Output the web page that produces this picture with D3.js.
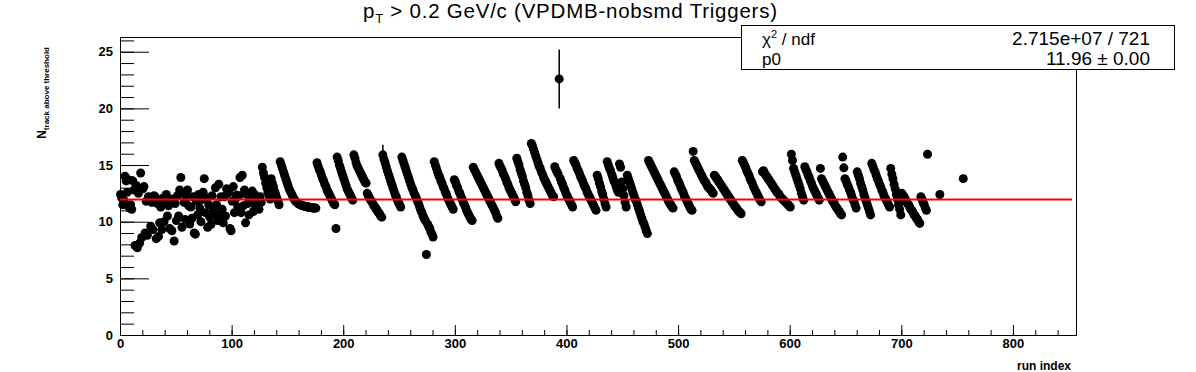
<!DOCTYPE html>
<html><head><meta charset="utf-8">
<script src="https://cdn.jsdelivr.net/npm/d3@7/dist/d3.min.js"></script>
<style>body{margin:0;background:#fff}svg{display:block}</style>
</head><body><svg id="c" width="1196" height="372"></svg>
<script>
// ---- data ----
const earlyValues = [12.4,12.1,11.5,11.9,14.0,13.6,12.6,13.7,11.2,11.5,11.1,13.6,12.8,7.9,13.2,7.7,12.5,8.1,14.3,8.6,
12.9,13.1,9.0,11.8,8.8,12.2,12.0,9.6,11.7,9.3,12.3,12.2,8.5,11.6,8.7,9.9,11.3,9.3,12.1,10.0,
11.8,12.4,10.5,11.4,9.4,11.9,9.2,12.0,8.3,11.6,10.1,12.3,10.5,12.8,13.9,9.5,12.5,11.7,10.2,12.1,
12.8,11.4,9.8,11.3,10.3,12.2,9.0,8.9,11.8,10.6,12.4,11.2,10.0,11.96,12.6,13.8,10.8,12.1,9.5,11.5,
10.4,9.75,12.3,11.0,10.7,13.0,11.5,10.1,13.3,10.6,12.2,11.1,9.9,12.2,10.5,12.9,12.5,12.6,9.4,9.2,
11.8,13.1,10.8,12.0,12.35,11.3,12.3,13.9,10.8,14.1,11.4,12.8,9.9,12.4,11.6,10.6,12.2,11.9,12.7,10.9,
12.4,11.4,11.3,12.0,11.1,12.2,11.7];
const sawtoothValues = [
14.8,14.3,13.9,13.4,13.0,12.6,12.3,12.0,
13.8,13.4,13.1,12.7,12.4,12.1,11.8,11.5,
15.3,15.0,14.7,14.4,14.1,13.8,13.5,13.2,12.9,12.7,12.5,12.3,12.1,11.9,11.8,11.7,11.6,11.55,11.5,11.45,11.4,11.4,11.35,11.35,11.3,11.3,11.3,11.25,11.25,11.2,11.2,11.2,11.2,
15.2,14.9,14.6,14.4,14.1,13.8,13.6,13.3,13.1,12.8,12.6,12.4,12.2,12.0,11.8,11.6,11.5,
9.4,
15.7,15.4,15.0,14.7,14.4,14.1,13.8,13.5,13.2,12.9,12.7,12.5,12.3,12.1,11.9,
15.9,15.6,15.2,14.9,14.7,14.5,14.3,14.1,13.9,13.7,13.5,13.4,
12.5,12.3,12.1,11.9,11.8,11.6,11.4,11.3,11.1,11.0,10.8,10.7,10.5,10.4,
15.9,15.5,15.2,
14.85,14.5,14.2,13.9,13.6,13.3,13.0,12.7,12.4,12.2,11.9,11.7,11.5,11.3,
15.7,15.4,15.1,14.8,14.5,14.2,13.9,13.6,13.3,13.0,12.8,12.5,12.3,12.1,11.8,11.6,11.3,11.0,10.8,10.5,10.3,10.1,7.1,9.8,9.6,9.4,9.1,8.9,8.65,
15.3,15.0,14.7,14.4,14.1,13.9,13.6,13.4,13.1,12.9,12.6,12.4,12.1,11.9,11.7,11.5,11.3,11.1,
13.7,13.5,13.2,13.0,12.7,12.5,12.2,12.0,11.7,11.5,11.3,11.0,10.8,10.6,10.4,10.2,10.1,
14.8,14.6,14.4,14.2,14.0,13.8,13.6,13.4,13.2,13.0,12.8,12.6,12.4,12.2,12.0,11.8,11.6,11.4,11.2,11.0,10.8,10.5,10.3,
15.15,14.9,14.7,14.5,14.2,14.0,13.8,13.5,13.3,13.0,12.8,12.6,12.4,12.2,12.0,11.75,
15.6,15.3,15.0,14.6,14.3,14.0,13.6,13.3,13.0,12.6,12.3,11.9,11.6,
16.9,16.7,16.4,16.1,15.8,15.5,15.2,14.9,14.7,14.4,14.2,13.9,13.7,13.5,13.3,13.1,12.9,12.7,12.5,12.3,12.2,
14.85,14.6,14.4,14.2,22.6,13.8,13.5,13.3,13.0,12.8,12.5,12.3,12.1,11.9,11.7,11.5,11.3,
15.4,15.2,15.0,14.7,14.5,14.3,14.0,13.8,13.6,13.3,13.1,12.9,12.6,12.4,12.2,12.0,11.8,11.6,11.4,11.2,11.0,
14.1,13.8,13.4,13.1,12.7,12.4,12.0,11.6,11.3,
15.3,15.0,14.7,14.5,14.2,13.9,13.6,13.4,13.1,12.8,12.6,
15.1,14.8,13.5,12.9,12.3,11.7,11.3,
14.1,13.8,13.5,13.2,12.9,12.6,12.3,12.0,11.8,11.5,11.2,10.9,10.6,10.3,10.0,9.8,9.5,9.2,8.95,
15.4,15.2,15.0,14.8,14.6,14.4,14.2,14.0,13.8,13.6,13.4,13.2,13.0,12.8,12.6,12.4,12.2,12.0,11.8,11.6,11.5,11.3,11.2,
14.4,14.2,14.0,13.7,13.5,13.3,13.0,12.8,12.6,12.3,12.1,11.9,11.7,11.5,11.3,11.1,11.0,
16.2,15.4,15.2,15.0,14.8,14.6,14.4,14.2,14.0,13.8,13.6,13.5,13.3,13.1,13.0,12.9,12.8,12.6,12.5,
14.1,14.0,13.8,13.7,13.5,13.4,13.2,13.1,12.9,12.8,12.6,12.5,12.3,12.2,12.0,11.9,11.7,11.6,11.4,11.3,11.2,11.0,10.9,10.8,10.7,
15.4,15.2,15.0,14.8,14.5,14.3,14.1,13.8,13.6,13.4,13.1,12.9,12.7,12.5,12.3,12.1,11.9,11.75,
14.4,14.5,14.3,14.1,14.0,13.8,13.7,13.5,13.4,13.2,13.1,12.9,12.8,12.6,12.5,12.4,12.2,12.1,12.0,11.9,11.8,11.7,11.6,11.5,11.4,11.3,
15.95,15.4,14.7,14.4,14.1,13.8,13.5,13.2,12.9,12.5,12.2,11.9,
14.85,14.6,14.4,14.1,13.9,13.6,13.4,13.1,12.9,12.7,12.5,12.3,12.1,11.9,
14.7,13.8,13.6,13.4,13.2,13.0,12.8,12.6,12.4,12.2,12.0,11.8,11.7,11.5,11.3,11.2,11.0,10.9,10.7,10.6,
15.7,14.75,13.8,13.6,13.3,13.1,12.8,12.6,12.3,12.0,11.8,11.5,11.2,
14.4,14.1,13.8,13.4,13.1,12.8,12.4,12.1,11.8,11.5,11.2,10.9,10.6,
15.15,14.9,14.6,14.4,14.1,13.8,13.6,13.3,13.1,12.8,12.6,12.3,12.1,11.9,11.7,11.5,11.3,
14.7,14.2,13.8,13.3,12.9,12.4,12.0,11.5,11.1,10.6,
12.5,12.3,12.2,12.0,11.8,11.6,11.5,11.3,11.1,11.0,10.8,10.6,10.5,10.3,10.2,10.0,9.85,
12.2,12.0,11.7,11.5,11.2,11.0,
15.95];
const lateRuns = [734, 755];
const lateValues = [12.4, 13.8];
const errRuns = [235, 393];
const errSizes = [0.9, 2.6];
const fitValue = 11.96;
const xTicks = [0,100,200,300,400,500,600,700,800];
const yTicks = [0,5,10,15,20,25];
const titleMain = "p", titleSub = "T", titleRest = " > 0.2 GeV/c (VPDMB-nobsmd Triggers)";
const statNames = ["ndf", "p0"];
const statValues = ["2.715e+07 / 721", "11.96 \u00b1 0.00"];

// ---- build points ----
const allValues = earlyValues.concat(sawtoothValues);
const points = allValues.map((v, i) => ({run: i, v: v}))
  .concat(lateRuns.map((r, i) => ({run: r, v: lateValues[i]})));
const errMap = new Map(errRuns.map((r, i) => [r, errSizes[i]]));

// ---- layout ----
const svg = d3.select("#c");
const L = 120, R = 1076, T = 37, B = 335;
const x = d3.scaleLinear().domain([0, 856.5]).range([L, R]);
const y = d3.scaleLinear().domain([0, 26.3]).range([B, T]);
const font = "'Liberation Sans', Arial, Helvetica, sans-serif";

// minor y ticks
svg.append("g").attr("transform", `translate(${L},0)`)
  .call(d3.axisLeft(y).tickValues(d3.range(0, 27, 1)).tickSize(-14).tickFormat("").tickSizeOuter(0))
  .call(g => g.select(".domain").remove())
  .selectAll("line").attr("stroke", "#000");
// major y ticks
const ya = svg.append("g").attr("transform", `translate(${L},0)`)
  .call(d3.axisLeft(y).tickValues(yTicks).tickSize(-29).tickPadding(7).tickSizeOuter(0));
ya.select(".domain").remove();
ya.selectAll("line").attr("stroke", "#000");
ya.selectAll("text").attr("font-family", font).attr("font-weight", "bold").attr("font-size", 13).attr("fill", "#000");

// minor x ticks
svg.append("g").attr("transform", `translate(0,${B})`)
  .call(d3.axisBottom(x).tickValues(d3.range(0, 857, 20)).tickSize(-5).tickFormat("").tickSizeOuter(0))
  .call(g => g.select(".domain").remove())
  .selectAll("line").attr("stroke", "#000");
const xa = svg.append("g").attr("transform", `translate(0,${B})`)
  .call(d3.axisBottom(x).tickValues(xTicks).tickSize(-10).tickPadding(4).tickSizeOuter(0));
xa.select(".domain").remove();
xa.selectAll("line").attr("stroke", "#000");
xa.selectAll("text").attr("font-family", font).attr("font-weight", "bold").attr("font-size", 13).attr("fill", "#000");

// frame
svg.append("rect").attr("x", L + 0.5).attr("y", T + 0.5).attr("width", R - L).attr("height", B - T)
  .attr("fill", "none").attr("stroke", "#000").attr("stroke-width", 1);

// error bars
svg.append("g").selectAll("line").data(points.filter(p => errMap.has(p.run))).join("line")
  .attr("x1", p => x(p.run + 0.5)).attr("x2", p => x(p.run + 0.5))
  .attr("y1", p => y(p.v - errMap.get(p.run))).attr("y2", p => y(p.v + errMap.get(p.run)))
  .attr("stroke", "#000").attr("stroke-width", 1.5);

// markers
svg.append("g").selectAll("circle").data(points).join("circle")
  .attr("cx", p => x(p.run + 0.5)).attr("cy", p => y(p.v)).attr("r", 4.5).attr("fill", "#000");

// fit line
svg.append("line").attr("x1", x(0)).attr("x2", x(853)).attr("y1", y(fitValue)).attr("y2", y(fitValue))
  .attr("stroke", "#ff0000").attr("stroke-width", 2);

// title
const tt = svg.append("text").attr("x", 363).attr("y", 18).attr("font-family", font).attr("font-size", 20.5).attr("fill", "#000")
  .attr("textLength", 414).attr("lengthAdjust", "spacing");
tt.append("tspan").text(titleMain);
tt.append("tspan").attr("font-size", 13).attr("dy", 5).text(titleSub);
tt.append("tspan").attr("dy", -5).text(titleRest);

// axis titles
svg.append("text").attr("x", 1071).attr("y", 370).attr("text-anchor", "end")
  .attr("font-family", font).attr("font-weight", "bold").attr("font-size", 12).text("run index");
const yl = svg.append("text").attr("transform", "translate(46,47) rotate(-90)").attr("text-anchor", "end")
  .attr("font-family", font).attr("font-weight", "bold").attr("font-size", 12);
yl.append("tspan").text("N");
yl.append("tspan").attr("font-size", 8).attr("dy", 3).text("track above threshold");

// stats box
svg.append("rect").attr("x", 741.5).attr("y", 25.5).attr("width", 433).attr("height", 44)
  .attr("fill", "#fff").attr("stroke", "#000").attr("stroke-width", 1);
const s1 = svg.append("text").attr("x", 762).attr("y", 45).attr("font-family", font).attr("font-size", 17);
s1.append("tspan").text("\u03c7");
s1.append("tspan").attr("font-size", 11).attr("dy", -7).text("2");
s1.append("tspan").attr("dy", 7).text(" / " + statNames[0]);
svg.append("text").attr("x", 1150).attr("y", 45).attr("text-anchor", "end").attr("font-family", font).attr("font-size", 19).text(statValues[0]);
svg.append("text").attr("x", 762).attr("y", 65).attr("font-family", font).attr("font-size", 17).text(statNames[1]);
svg.append("text").attr("x", 1150).attr("y", 65).attr("text-anchor", "end").attr("font-family", font).attr("font-size", 19).text(statValues[1]);
</script></body></html>
